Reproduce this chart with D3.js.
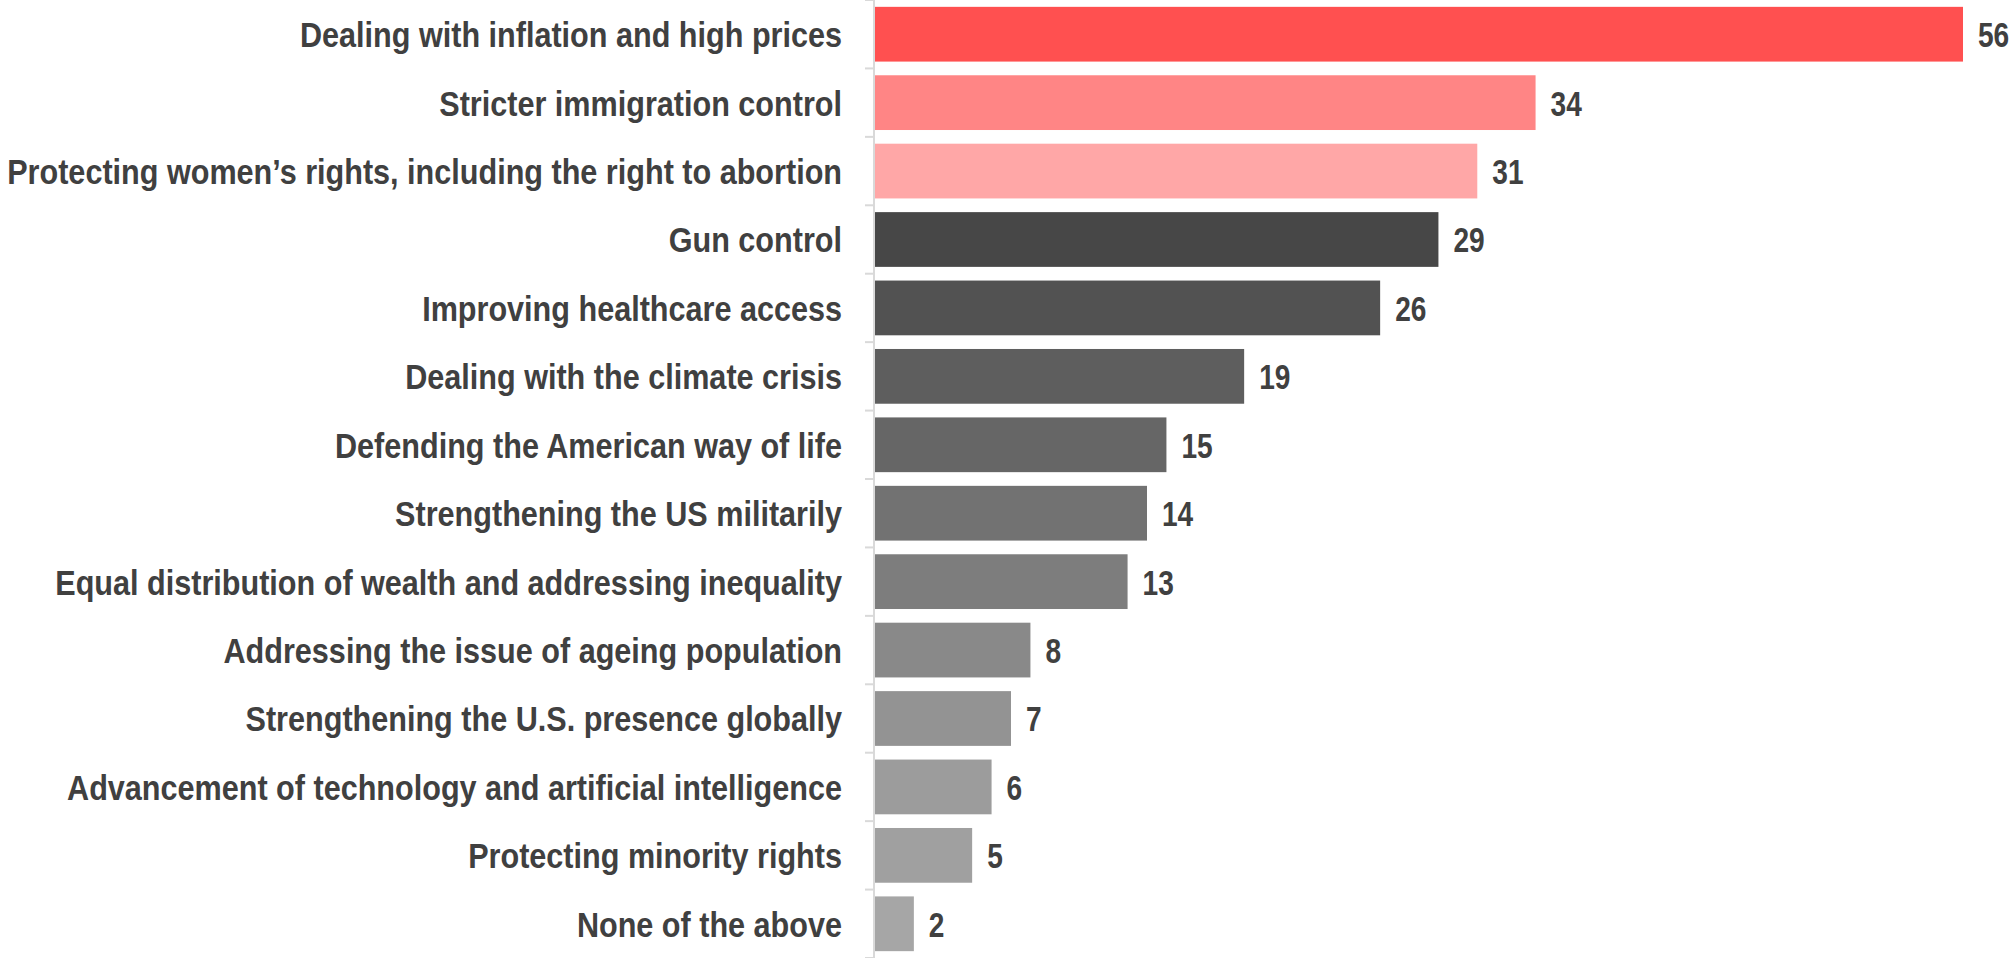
<!DOCTYPE html>
<meta charset="utf-8">
<script src="https://d3js.org/d3.v7.min.js"></script>
<style>
  body { margin: 0; background: #fff; }
  text { font-family: "Liberation Sans", Arial, sans-serif; font-weight: bold; }
</style>
<body>
<div id="chart"></div>
<script>

var categories = [
  "Dealing with inflation and high prices",
  "Stricter immigration control",
  "Protecting women\u2019s rights, including the right to abortion",
  "Gun control",
  "Improving healthcare access",
  "Dealing with the climate crisis",
  "Defending the American way of life",
  "Strengthening the US militarily",
  "Equal distribution of wealth and addressing inequality",
  "Addressing the issue of ageing population",
  "Strengthening the U.S. presence globally",
  "Advancement of technology and artificial intelligence",
  "Protecting minority rights",
  "None of the above"
];
var values = [56, 34, 31, 29, 26, 19, 15, 14, 13, 8, 7, 6, 5, 2];
var barColors = ["#ff5050", "#ff8585", "#ffa7a7", "#474747", "#525252", "#5e5e5e", "#666666",
                 "#727272", "#7d7d7d", "#898989", "#939393", "#9c9c9c", "#a0a0a0", "#a6a6a6"];

var width = 2015, height = 958;
var margin = {top: 0, right: 52, bottom: 0, left: 874};

var svg = d3.select("#chart")
  .append("svg")
    .attr("width", width)
    .attr("height", height);

var g = svg.append("g")
    .attr("transform", "translate(" + margin.left + "," + margin.top + ")");

var x = d3.scaleLinear()
  .domain([0, 56])
  .range([0, width - margin.left - margin.right - 1]);

var y = d3.scaleBand()
  .domain(categories)
  .range([0, height])
  .paddingInner(0.2)
  .paddingOuter(0.1);

// axis line + ticks between bands
var tickPos = categories.map(function(c) { return y(c) - y.step() * y.paddingInner() / 2; });
tickPos.push(height);
g.append("line")
  .attr("x1", 0).attr("x2", 0)
  .attr("y1", 0).attr("y2", height)
  .style("stroke", "#d9d9d9")
  .style("stroke-width", 2);
g.selectAll(".tick")
  .data(tickPos)
  .enter()
  .append("line")
    .attr("x1", -9).attr("x2", 0)
    .attr("y1", function(d) { return d; })
    .attr("y2", function(d) { return d; })
    .style("stroke", "#d9d9d9")
    .style("stroke-width", 2);

g.selectAll(".bar")
  .data(values)
  .enter()
  .append("rect")
    .attr("x", 1)
    .attr("y", function(d, i) { return y(categories[i]); })
    .attr("width", function(d) { return x(d); })
    .attr("height", y.bandwidth())
    .style("fill", function(d, i) { return barColors[i]; });

// category labels (squeezed horizontally, like a narrow face)
g.selectAll(".cat")
  .data(categories)
  .enter()
  .append("text")
    .attr("transform", function(d) {
      return "translate(-32," + (y(d) + y.bandwidth() / 2) + ") scale(0.85,1)";
    })
    .attr("dy", "0.36em")
    .attr("text-anchor", "end")
    .style("font-size", "36px")
    .style("fill", "#404040")
    .text(function(d) { return d; });

// value labels
g.selectAll(".val")
  .data(values)
  .enter()
  .append("text")
    .attr("transform", function(d, i) {
      return "translate(" + (x(d) + 16) + "," + (y(categories[i]) + y.bandwidth() / 2) + ") scale(0.78,1)";
    })
    .attr("dy", "0.36em")
    .style("font-size", "36px")
    .style("fill", "#404040")
    .text(function(d) { return d; });

</script>
</body>
